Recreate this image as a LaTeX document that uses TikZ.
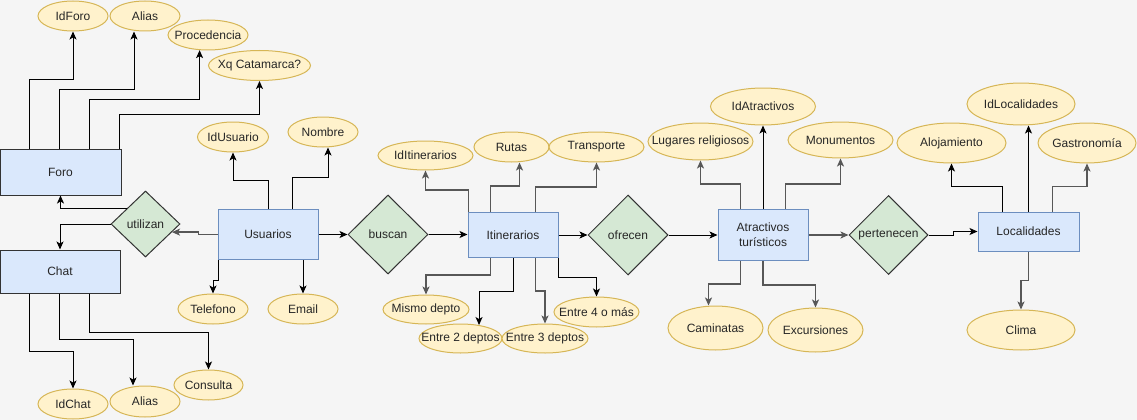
\documentclass[tikz,border=0pt]{standalone}
\usepackage{fontspec}
\setmainfont{Liberation Sans}
\usetikzlibrary{shapes.geometric,arrows.meta}

\definecolor{entfill}{HTML}{DAE8FC}
\definecolor{entdraw}{HTML}{6C8EBF}
\definecolor{atrfill}{HTML}{FFF2CC}
\definecolor{atrdraw}{HTML}{D6B656}
\definecolor{relfill}{HTML}{D5E8D4}
\definecolor{fondo}{HTML}{F5F5F5}

\newcommand{\txt}[1]{\makebox[0pt][c]{#1}}

\tikzset{
    entidad/.style={rectangle, draw=entdraw, fill=entfill, line width=1pt, inner sep=0pt, align=center},
    atributo/.style={ellipse, draw=atrdraw, fill=atrfill, line width=1pt, inner sep=0pt},
    relacion/.style={diamond, aspect=1, draw=black!80, fill=relfill, line width=1pt, inner sep=0pt},
    link/.style={draw=black, line width=1pt, -{Stealth[length=8pt, width=7pt, inset=2pt]}},
    linkg/.style={draw=black!66, line width=1.4pt, -{Stealth[length=8pt, width=7pt, inset=2pt]}}
}

\begin{document}
\begin{tikzpicture}[x=1pt, y=-1pt, every node/.style={font=\fontsize{12}{15}\selectfont, text=black!85}]
            % фон
            \fill [fondo] ( 0, 0 ) rectangle ( 1137, 420 );
            \useasboundingbox ( 0, 0 ) rectangle ( 1137, 420 );

            % сущности
            \node [entidad, draw=black!80, minimum width=121pt, minimum height=46pt] (foro) at ( 60.5, 172 ) {Foro};
            \node [entidad, draw=black!80, minimum width=120pt, minimum height=43pt] (chat) at ( 60, 271.5 ) {Chat};
            \node [entidad, minimum width=100pt, minimum height=50pt] (usu) at ( 268, 234.5 ) {Usuarios};
            \node [entidad, minimum width=90pt, minimum height=45pt] (itin) at ( 513, 235 ) {Itinerarios};
            \node [entidad, minimum width=90pt, minimum height=51pt] (atr) at ( 763, 235 ) {Atractivos\\turísticos};
            \node [entidad, minimum width=101pt, minimum height=39pt] (loc) at ( 1028.5, 231.5 ) {Localidades};

            % отношения
            \node [relacion, minimum width=69pt, minimum height=66pt] (util) at ( 145.5, 224 ) {utilizan};
            \node [relacion, minimum width=80pt, minimum height=79pt] (buscan) at ( 388, 234.5 ) {buscan};
            \node [relacion, minimum width=80pt, minimum height=80pt] (ofrecen) at ( 628, 235 ) {ofrecen};
            \node [relacion, minimum width=79pt, minimum height=79pt] (pert) at ( 888.5, 235 ) {pertenecen};

            % атрибуты
            \node [atributo, minimum width=70pt, minimum height=30pt] (idforo) at ( 73, 16 ) {\txt{IdForo}};
            \node [atributo, minimum width=70pt, minimum height=30pt] (aliasf) at ( 145, 16 ) {\txt{Alias}};
            \node [atributo, minimum width=80pt, minimum height=30pt] (proc) at ( 208, 35 ) {\txt{Procedencia}};
            \node [atributo, minimum width=102pt, minimum height=30pt] (xq) at ( 259.5, 65.5 ) {\txt{Xq Catamarca?}};
            \node [atributo, minimum width=71pt, minimum height=30pt] (idusu) at ( 233, 137 ) {\txt{IdUsuario}};
            \node [atributo, minimum width=70pt, minimum height=30pt] (nombre) at ( 323, 132 ) {\txt{Nombre}};
            \node [atributo, minimum width=70pt, minimum height=30pt] (tel) at ( 213, 309 ) {\txt{Telefono}};
            \node [atributo, minimum width=70pt, minimum height=30pt] (email) at ( 303, 309 ) {\txt{Email}};
            \node [atributo, minimum width=95pt, minimum height=29pt] (iditi) at ( 425.5, 155.5 ) {\txt{IdItinerarios}};
            \node [atributo, minimum width=75pt, minimum height=30pt] (rutas) at ( 511.5, 147 ) {\txt{Rutas}};
            \node [atributo, minimum width=95pt, minimum height=30pt] (transp) at ( 596.5, 147 ) {\txt{Transporte}};
            \node [atributo, minimum width=86pt, minimum height=29pt] (mismo) at ( 426, 309.5 ) {\txt{Mismo depto}};
            \node [atributo, minimum width=83pt, minimum height=29pt] (entre2) at ( 460.5, 338.5 ) {\txt{Entre 2 deptos}};
            \node [atributo, minimum width=86pt, minimum height=29pt] (entre3) at ( 545, 338.5 ) {\txt{Entre 3 deptos}};
            \node [atributo, minimum width=85pt, minimum height=30pt] (entre4) at ( 596.5, 312 ) {\txt{Entre 4 o más}};
            \node [atributo, minimum width=105pt, minimum height=37pt] (idatr) at ( 763, 106.5 ) {\txt{IdAtractivos}};
            \node [atributo, minimum width=105pt, minimum height=37pt] (lugares) at ( 700.5, 141.5 ) {\txt{Lugares religiosos}};
            \node [atributo, minimum width=105pt, minimum height=36pt] (monu) at ( 840.5, 140 ) {\txt{Monumentos}};
            \node [atributo, minimum width=95pt, minimum height=44pt] (camin) at ( 715.5, 328 ) {\txt{Caminatas}};
            \node [atributo, minimum width=95pt, minimum height=44pt] (excur) at ( 815.5, 330 ) {\txt{Excursiones}};
            \node [atributo, minimum width=108pt, minimum height=42pt] (idloc) at ( 1021, 104 ) {\txt{IdLocalidades}};
            \node [atributo, minimum width=109pt, minimum height=40pt] (aloj) at ( 951.5, 143 ) {\txt{Alojamiento}};
            \node [atributo, minimum width=98pt, minimum height=40pt] (gastro) at ( 1087, 143 ) {\txt{Gastronomía}};
            \node [atributo, minimum width=108pt, minimum height=40pt] (clima) at ( 1021, 330 ) {\txt{Clima}};
            \node [atributo, minimum width=70pt, minimum height=30pt] (idchat) at ( 73, 404 ) {\txt{IdChat}};
            \node [atributo, minimum width=70pt, minimum height=31pt] (aliasc) at ( 145, 401.5 ) {\txt{Alias}};
            \node [atributo, minimum width=69pt, minimum height=30pt] (consulta) at ( 208.5, 385 ) {\txt{Consulta}};

            % связи между сущностями
            \draw [linkg] (usu.west) -- ++( -19, 0 ) |- (util.343);
            \draw [link] (util.141) -| (foro.south);
            \draw [link] (util.west) -| (chat.north);
            \draw [link] (usu.east) -- (usu.east -| buscan.west);
            \draw [link] (buscan.east) -- (buscan.east -| itin.west);
            \draw [link] (itin.east) -- (ofrecen.west);
            \draw [link] (ofrecen.east) -- (atr.west);
            \draw [linkg] (atr.east) -- (pert.west);
            \draw [link] (pert.east) -- ++( 25, 0 ) |- (loc.west);

            % атрибуты Foro
            \draw [link] ([xshift=30pt]foro.north west) -- ++( 0, -69 ) -| (idforo.south);
            \draw [link] ([xshift=60pt]foro.north west) -- ++( 0, -59 ) -| ([xshift=-11pt]aliasf.south);
            \draw [link] ([xshift=90pt]foro.north west) -- ++( 0, -49 ) -| (proc.241);
            \draw [link] ([xshift=120pt]foro.north west) -- ++( 0, -34 ) -| (xq.south);

            % атрибуты Chat
            \draw [link] ([xshift=30pt]chat.south west) -- ++( 0, 58 ) -| (idchat.north);
            \draw [link] ([xshift=60pt]chat.south west) -- ++( 0, 46 ) -| ([xshift=-12pt]aliasc.north);
            \draw [link] ([xshift=90pt]chat.south west) -- ++( 0, 39 ) -| (consulta.north);

            % атрибуты Usuarios
            \draw [link] ([xshift=51pt]usu.north west) -- ++( 0, -29 ) -| (idusu.south);
            \draw [link] ([xshift=75pt]usu.north west) -- ++( 0, -32 ) -| ([xshift=5pt]nombre.south);
            \draw [link] ([xshift=1pt]usu.south west) -- ++( 0, 20 ) -| (tel.north);
            \draw [link] (usu.south -| email.north) -- (email.north);

            % атрибуты Itinerarios
            \draw [linkg] ([xshift=1pt]itin.north west) -- ++( 0, -22 ) -| (iditi.south);
            \draw [linkg] ([xshift=23pt]itin.north west) -- ++( 0, -26 ) -| ([xshift=8pt]rutas.south);
            \draw [linkg] ([xshift=68pt]itin.north west) -- ++( 0, -25 ) -| (transp.south);
            \draw [linkg] ([xshift=23pt]itin.south west) -- ++( 0, 17 ) -| (mismo.north);
            \draw [link] (itin.south) -- ++( 0, 33 ) -| (entre2.36);
            \draw [linkg] ([xshift=68pt]itin.south west) -- ++( 0, 33 ) -| (entre3.north);
            \draw [link] (itin.south east) -- ++( 0, 19 ) -| (entre4.north);

            % атрибуты Atractivos
            \draw [link] (atr.north) -- (idatr.south);
            \draw [linkg] ([xshift=23pt]atr.north west) -- ++( 0, -25 ) -| (lugares.south);
            \draw [linkg] ([xshift=68pt]atr.north west) -- ++( 0, -25 ) -| (monu.south);
            \draw [linkg] ([xshift=23pt]atr.south west) -- ++( 0, 23 ) -| ([xshift=-7pt]camin.north);
            \draw [linkg] (atr.south) -- ++( 0, 24 ) -| (excur.north);

            % атрибуты Localidades
            \draw [link] (loc.north) -- (loc.north |- idloc.south);
            \draw [link] ([xshift=25pt]loc.north west) -- ++( 0, -25 ) -| (aloj.south);
            \draw [linkg] ([xshift=75pt]loc.north west) -- ++( 0, -25 ) -| (gastro.south);
            \draw [linkg] (loc.south) -- ++( 0, 29 ) -| (clima.north);
        \end{tikzpicture}
\end{document}
